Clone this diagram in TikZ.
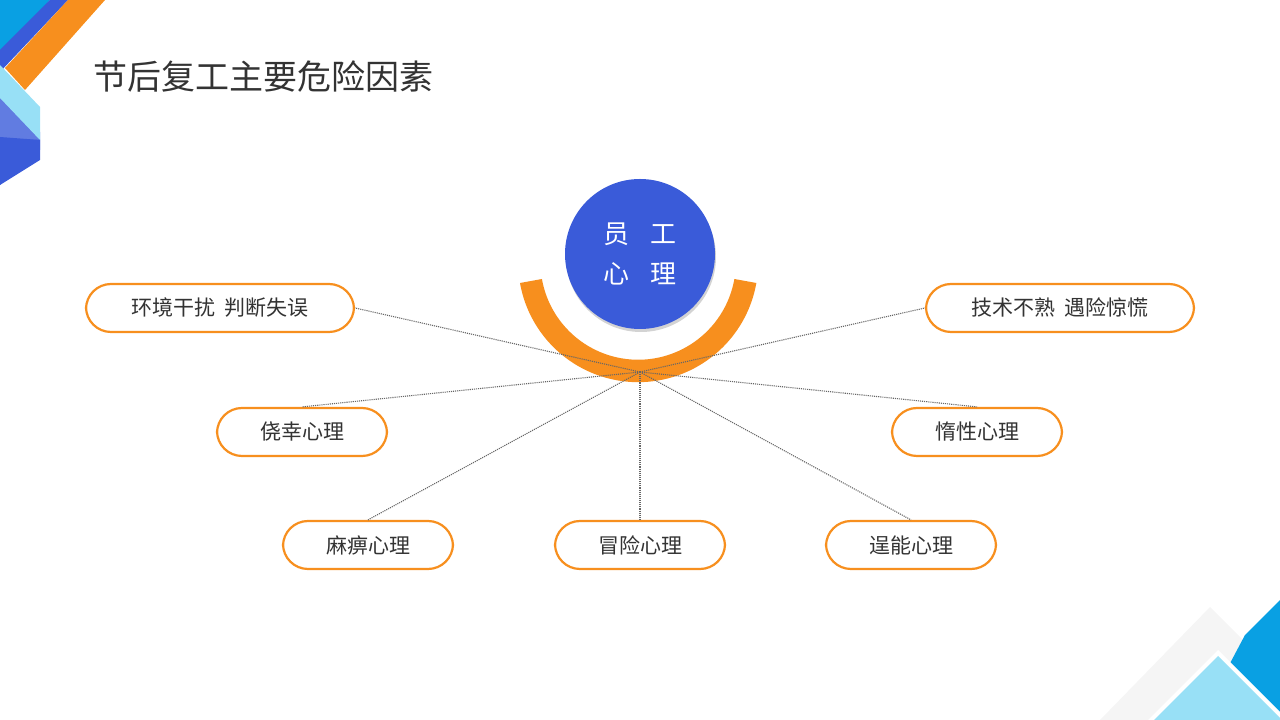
\documentclass[tikz,border=0pt]{standalone}
\usepackage{fontspec}
\newfontfamily\cjk{Noto Sans CJK SC}
\usetikzlibrary{shadows,calc}
\definecolor{org}{HTML}{F78F1E}
\definecolor{blu}{HTML}{3A5BD9}
\definecolor{cya}{HTML}{09A0E3}
\definecolor{lcy}{HTML}{98E0F6}
\definecolor{txt}{HTML}{333333}
\tikzset{box/.style={draw=org,line width=2.2pt,rounded corners=25pt,fill=white,minimum height=48pt,font=\cjk\fontsize{21}{21}\selectfont,text=txt},
link/.style={densely dotted,draw=gray!80!black,line width=1.1pt}}
\begin{document}
\begin{tikzpicture}[x=1pt,y=1pt]
\useasboundingbox (0,0) rectangle (1280,720);
% top-left decoration
\fill[cya] (0,720)--(50,720)--(0,660)--cycle;
\fill[blu] (50,720)--(68,720)--(0,648)--(0,670)--cycle;
\fill[org] (68,720)--(105,720)--(25,630)--(5,652)--cycle;
\fill[blu!80!white] (0,630)--(40,588)--(40,570)--(0,540)--cycle;
\fill[lcy] (0,655)--(40,613)--(40,580)--(0,622)--cycle;
\fill[blu] (0,580)--(40,580)--(0,535)--cycle;
\fill[blu] (0,583)--(40,580)--(40,560)--(0,535)--cycle;
% bottom-right decoration
\fill[gray!8] (1210,113)--(1100,0)--(1280,0)--(1280,43)--cycle;
\fill[cya] (1245,85)--(1280,120)--(1280,0)--(1200,0)--cycle;
\fill[white] (1218,70)--(1148,0)--(1280,0)--(1280,8)--cycle;
\fill[lcy] (1218,64)--(1154,0)--(1280,0)--(1280,2)--cycle;
% title
\node[anchor=west,font=\cjk\fontsize{34}{34}\selectfont,text=txt] (title) at (90,643) {节后复工主要危险因素};
% center
\fill[org] (520,437) arc[start angle=190,end angle=350,radius=120] -- ++(-22,4) arc[start angle=350,end angle=190,radius=97.7] -- cycle;
\node[circle,fill=blu,minimum size=150pt,drop shadow={opacity=0.35,shadow xshift=1pt,shadow yshift=-3pt},align=center,text=white,font=\cjk\fontsize{26}{40}\selectfont] (hub) at (640,466) {员\hspace{0.8em}工\\心\hspace{0.8em}理};
\coordinate (c) at (640,348);
\node[box,minimum width=268pt] (a) at (220,412) {环境干扰\hspace{0.4em}判断失误};
\node[box,minimum width=268pt] (b) at (1060,412) {技术不熟\hspace{0.4em}遇险惊慌};
\node[box,minimum width=170pt] (cc) at (302,288) {侥幸心理};
\node[box,minimum width=170pt] (d) at (977,288) {惰性心理};
\node[box,minimum width=170pt] (e) at (368,175) {麻痹心理};
\node[box,minimum width=170pt] (f) at (640,175) {冒险心理};
\node[box,minimum width=170pt] (g) at (911,175) {逞能心理};
\begin{scope}[on background layer/.style={}]
\end{scope}
\draw[link] (c) -- (a.east);
\draw[link] (c) -- (b.west);
\draw[link] (c) -- (cc.north);
\draw[link] (c) -- (d.north);
\draw[link] (c) -- (e.north);
\draw[link] (c) -- (f.north);
\draw[link] (c) -- (g.north);
\end{tikzpicture}
\end{document}
